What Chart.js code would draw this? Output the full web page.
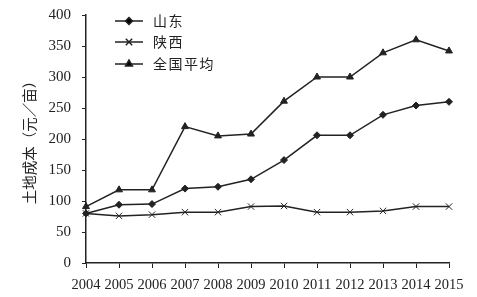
<!DOCTYPE html>
<html>
<head>
<meta charset="utf-8">
<script src="https://cdn.jsdelivr.net/npm/chart.js@4"></script>
<style>
  html, body { margin: 0; padding: 0; background: #fff; }
  #wrap { width: 477px; height: 297px; }
</style>
</head>
<body>
<div id="wrap"><canvas id="myChart" width="477" height="297"></canvas></div>
<script>
const years = ['2004','2005','2006','2007','2008','2009','2010','2011','2012','2013','2014','2015'];
const shandong = [80, 94, 95, 120, 123, 135, 166, 206, 206, 239, 254, 260];
const shaanxi = [80, 76, 78, 82, 82, 91, 92, 82, 82, 84, 91, 91];
const national = [91, 118, 118, 220, 205, 208, 261, 300, 300, 339, 360, 342];
const seriesNames = ['山东', '陕西', '全国平均'];
const yTicks = [0, 50, 100, 150, 200, 250, 300, 350, 400];

const ink = '#222';
const serif = "'Liberation Serif', 'Noto Sans CJK SC', serif";

// legend drawn inside the plot, top-left
const innerLegend = {
    id: 'innerLegend',
    afterDraw(chart) {
        const c = chart.ctx;
        const x0 = 115, x1 = 143, tx = 153;
        const rows = [21, 42, 64];
        chart.data.datasets.forEach(function(ds, i) {
            const y = rows[i];
            c.save();
            c.strokeStyle = ink;
            c.lineWidth = 1.5;
            c.beginPath();
            c.moveTo(x0, y);
            c.lineTo(x1, y);
            c.stroke();
            Chart.helpers.drawPoint(c, {
                pointStyle: ds.pointStyle,
                radius: ds.pointRadius,
                borderWidth: ds.pointBorderWidth || 1
            }, (x0 + x1) / 2, y);
            c.fillStyle = ink;
            c.font = "14px " + serif;
            c.letterSpacing = '1.5px';
            c.textBaseline = 'middle';
            c.fillText(ds.label, tx, y + 1);
            c.restore();
        });
    }
};

function makeSet(label, data, style, radius) {
    return {
        label: label,
        data: data,
        borderColor: ink,
        backgroundColor: ink,
        borderWidth: 1.5,
        pointStyle: style,
        pointRadius: radius,
        pointBorderColor: ink,
        pointBackgroundColor: ink,
        pointBorderWidth: 1,
        tension: 0
    };
}

const ctx = document.getElementById('myChart').getContext('2d');
let myChart = new Chart(ctx, {
    type: 'line',
    data: {
        labels: years,
        datasets: [
            makeSet(seriesNames[0], shandong, 'rectRot', 3.5),
            makeSet(seriesNames[1], shaanxi, 'crossRot', 4.5),
            makeSet(seriesNames[2], national, 'triangle', 4)
        ]
    },
    options: {
        responsive: false,
        animation: false,
        layout: { padding: { top: 15, right: 28, left: 0, bottom: 0 } },
        plugins: {
            legend: { display: false },
            tooltip: { enabled: false }
        },
        scales: {
            x: {
                offset: false,
                grid: { drawOnChartArea: false, tickLength: 5, color: ink },
                border: { color: ink, width: 1.5 },
                ticks: { color: ink, font: { family: serif, size: 14.5 }, maxRotation: 0, autoSkip: false, padding: 8 },
                afterFit(scale) { scale.height = 34; }
            },
            y: {
                min: 0,
                max: 400,
                afterBuildTicks(scale) { scale.ticks = yTicks.map(v => ({ value: v })); },
                grid: { drawOnChartArea: false, tickLength: 4, color: ink },
                border: { color: ink, width: 1.5 },
                ticks: { color: ink, font: { family: serif, size: 15 }, padding: 11 },
                title: {
                    display: true,
                    text: '土地成本（元／亩）',
                    color: ink,
                    font: { family: serif, size: 14.5 },
                    padding: { top: 22, bottom: 4 }
                },
                afterFit(scale) {
                    scale.width = 86;
                    scale.paddingTop = 0;
                    scale.paddingBottom = 0;
                }
            }
        }
    },
    plugins: [innerLegend]
});
</script>
</body>
</html>
